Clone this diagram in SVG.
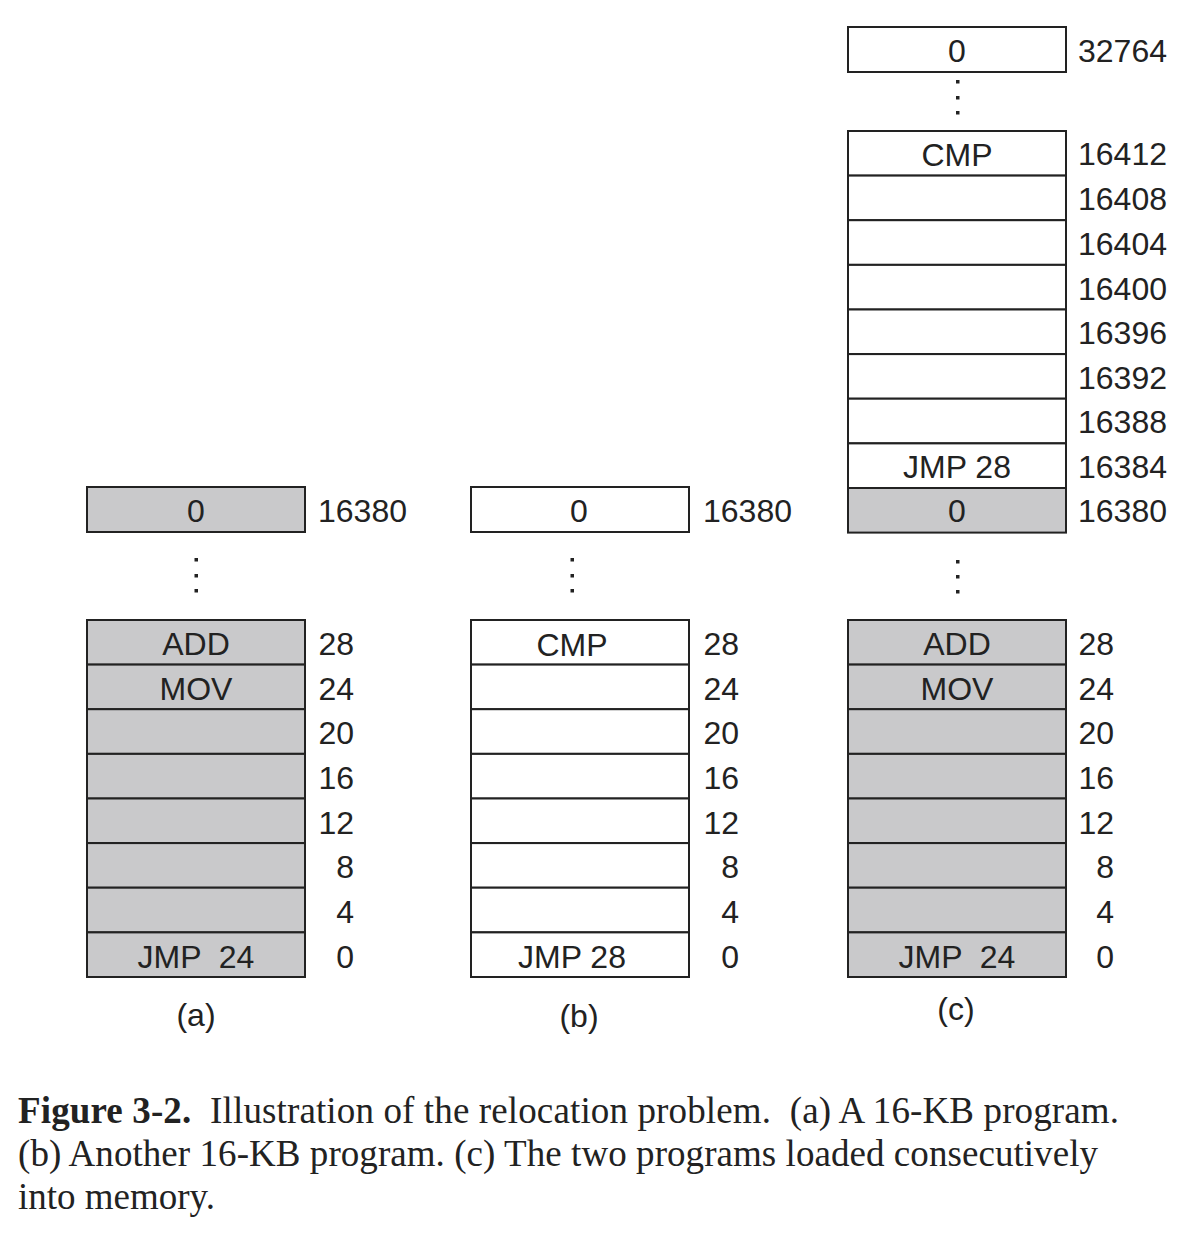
<svg xmlns="http://www.w3.org/2000/svg" width="1196" height="1236" viewBox="0 0 1196 1236">
<style>
.bg{fill:#ffffff}
.g{fill:#c9c9cb;stroke:#222;stroke-width:2}
.w{fill:#ffffff;stroke:#222;stroke-width:2}
.t{font-family:"Liberation Sans",Arial,Helvetica,sans-serif;font-size:32px;fill:#222}
.c{text-anchor:middle}
.e{text-anchor:end}
.dot{fill:#222}
.cap{font-family:"Liberation Serif","Times New Roman",serif;font-size:37px;fill:#222}
</style>
<rect class="bg" x="0" y="0" width="1196" height="1236"/>

<g id="col-a">
<g id="a-top"><rect class="g" x="87" y="487" width="218" height="45"/><text class="t c" x="196" y="522">0</text><text class="t" x="318" y="522">16380</text></g>
<g id="a-dots" class="dot"><rect x="194.5" y="558" width="3.5" height="3.5"/><rect x="194.5" y="574" width="3.5" height="3.5"/><rect x="194.5" y="589" width="3.5" height="3.5"/></g>
<g id="a-r28"><rect class="g" x="87" y="620" width="218" height="44.6"/><text class="t c" x="196" y="655">ADD</text><text class="t e" x="354" y="655">28</text></g>
<g id="a-r24"><rect class="g" x="87" y="664.6" width="218" height="44.6"/><text class="t c" x="196" y="699.7">MOV</text><text class="t e" x="354" y="699.7">24</text></g>
<g id="a-r20"><rect class="g" x="87" y="709.2" width="218" height="44.6"/><text class="t e" x="354" y="744.3">20</text></g>
<g id="a-r16"><rect class="g" x="87" y="753.9" width="218" height="44.6"/><text class="t e" x="354" y="789">16</text></g>
<g id="a-r12"><rect class="g" x="87" y="798.5" width="218" height="44.6"/><text class="t e" x="354" y="833.6">12</text></g>
<g id="a-r8"><rect class="g" x="87" y="843.1" width="218" height="44.6"/><text class="t e" x="354" y="878.2">8</text></g>
<g id="a-r4"><rect class="g" x="87" y="887.7" width="218" height="44.6"/><text class="t e" x="354" y="922.8">4</text></g>
<g id="a-r0"><rect class="g" x="87" y="932.4" width="218" height="44.6"/><text class="t c" x="196" y="967.5" xml:space="preserve">JMP  24</text><text class="t e" x="354" y="967.5">0</text></g>
<text id="a-label" class="t c" x="196" y="1026">(a)</text>
</g>

<g id="col-b">
<g id="b-top"><rect class="w" x="471" y="487" width="218" height="45"/><text class="t c" x="579" y="522">0</text><text class="t" x="703" y="522">16380</text></g>
<g id="b-dots" class="dot"><rect x="570.5" y="558" width="3.5" height="3.5"/><rect x="570.5" y="574" width="3.5" height="3.5"/><rect x="570.5" y="589" width="3.5" height="3.5"/></g>
<g id="b-r28"><rect class="w" x="471" y="620" width="218" height="44.6"/><text class="t c" x="572" y="656">CMP</text><text class="t e" x="739" y="655">28</text></g>
<g id="b-r24"><rect class="w" x="471" y="664.6" width="218" height="44.6"/><text class="t e" x="739" y="699.7">24</text></g>
<g id="b-r20"><rect class="w" x="471" y="709.2" width="218" height="44.6"/><text class="t e" x="739" y="744.3">20</text></g>
<g id="b-r16"><rect class="w" x="471" y="753.9" width="218" height="44.6"/><text class="t e" x="739" y="789">16</text></g>
<g id="b-r12"><rect class="w" x="471" y="798.5" width="218" height="44.6"/><text class="t e" x="739" y="833.6">12</text></g>
<g id="b-r8"><rect class="w" x="471" y="843.1" width="218" height="44.6"/><text class="t e" x="739" y="878.2">8</text></g>
<g id="b-r4"><rect class="w" x="471" y="887.7" width="218" height="44.6"/><text class="t e" x="739" y="922.8">4</text></g>
<g id="b-r0"><rect class="w" x="471" y="932.4" width="218" height="44.6"/><text class="t c" x="572" y="967.5">JMP 28</text><text class="t e" x="739" y="967.5">0</text></g>
<text id="b-label" class="t c" x="579" y="1027">(b)</text>
</g>

<g id="col-c">
<g id="c-top"><rect class="w" x="848" y="27" width="218" height="45"/><text class="t c" x="957" y="62">0</text><text class="t" x="1078" y="62">32764</text></g>
<g id="c-dots1" class="dot"><rect x="956" y="80" width="3.5" height="3.5"/><rect x="956" y="96" width="3.5" height="3.5"/><rect x="956" y="111" width="3.5" height="3.5"/></g>
<g id="c-r16412"><rect class="w" x="848" y="131" width="218" height="44.6"/><text class="t c" x="957" y="166">CMP</text><text class="t" x="1078" y="165">16412</text></g>
<g id="c-r16408"><rect class="w" x="848" y="175.6" width="218" height="44.6"/><text class="t" x="1078" y="210.2">16408</text></g>
<g id="c-r16404"><rect class="w" x="848" y="220.2" width="218" height="44.6"/><text class="t" x="1078" y="254.8">16404</text></g>
<g id="c-r16400"><rect class="w" x="848" y="264.9" width="218" height="44.6"/><text class="t" x="1078" y="299.5">16400</text></g>
<g id="c-r16396"><rect class="w" x="848" y="309.5" width="218" height="44.6"/><text class="t" x="1078" y="344.1">16396</text></g>
<g id="c-r16392"><rect class="w" x="848" y="354.1" width="218" height="44.6"/><text class="t" x="1078" y="388.7">16392</text></g>
<g id="c-r16388"><rect class="w" x="848" y="398.7" width="218" height="44.6"/><text class="t" x="1078" y="433.3">16388</text></g>
<g id="c-r16384"><rect class="w" x="848" y="443.4" width="218" height="44.6"/><text class="t c" x="957" y="477.5">JMP 28</text><text class="t" x="1078" y="478">16384</text></g>
<g id="c-r16380"><rect class="g" x="848" y="488" width="218" height="44.6"/><text class="t c" x="957" y="522">0</text><text class="t" x="1078" y="522">16380</text></g>
<g id="c-dots2" class="dot"><rect x="956" y="560" width="3.5" height="3.5"/><rect x="956" y="575" width="3.5" height="3.5"/><rect x="956" y="590" width="3.5" height="3.5"/></g>
<g id="c-r28"><rect class="g" x="848" y="620" width="218" height="44.6"/><text class="t c" x="957" y="655">ADD</text><text class="t e" x="1114" y="655">28</text></g>
<g id="c-r24"><rect class="g" x="848" y="664.6" width="218" height="44.6"/><text class="t c" x="957" y="699.7">MOV</text><text class="t e" x="1114" y="699.7">24</text></g>
<g id="c-r20"><rect class="g" x="848" y="709.2" width="218" height="44.6"/><text class="t e" x="1114" y="744.3">20</text></g>
<g id="c-r16"><rect class="g" x="848" y="753.9" width="218" height="44.6"/><text class="t e" x="1114" y="789">16</text></g>
<g id="c-r12"><rect class="g" x="848" y="798.5" width="218" height="44.6"/><text class="t e" x="1114" y="833.6">12</text></g>
<g id="c-r8"><rect class="g" x="848" y="843.1" width="218" height="44.6"/><text class="t e" x="1114" y="878.2">8</text></g>
<g id="c-r4"><rect class="g" x="848" y="887.7" width="218" height="44.6"/><text class="t e" x="1114" y="922.8">4</text></g>
<g id="c-r0"><rect class="g" x="848" y="932.4" width="218" height="44.6"/><text class="t c" x="957" y="967.5" xml:space="preserve">JMP  24</text><text class="t e" x="1114" y="967.5">0</text></g>
<text id="c-label" class="t c" x="956" y="1020">(c)</text>
</g>

<g id="connectors"></g>

<g id="caption">
<text class="cap" x="18" y="1123" xml:space="preserve" textLength="1101"><tspan font-weight="bold">Figure 3-2.</tspan>  Illustration of the relocation problem.  (a) A 16-KB program.</text>
<text class="cap" x="18" y="1166" textLength="1080">(b) Another 16-KB program. (c) The two programs loaded consecutively</text>
<text class="cap" x="18" y="1209">into memory.</text>
</g>
</svg>
